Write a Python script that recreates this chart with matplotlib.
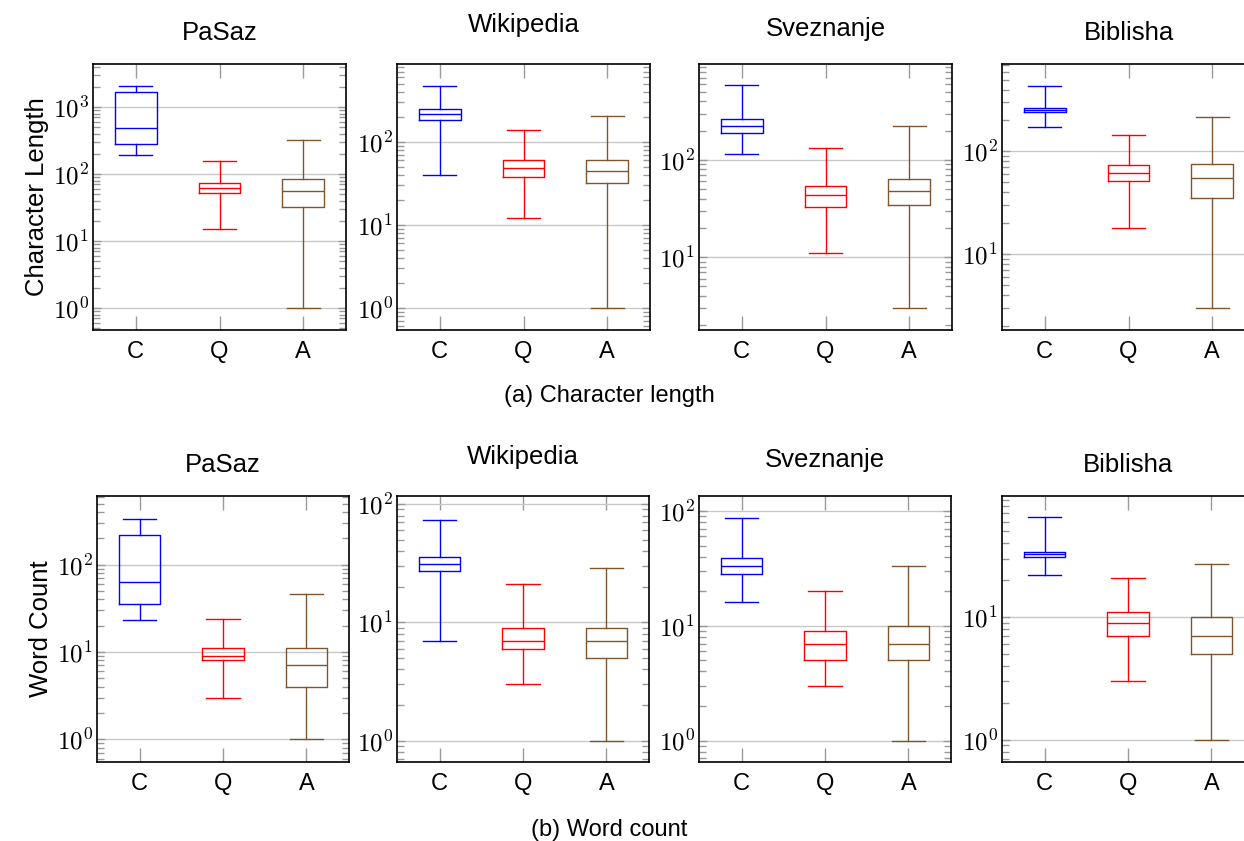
import matplotlib
matplotlib.use('Agg')
from matplotlib import pyplot as plt
from matplotlib.ticker import LogLocator, NullFormatter, FuncFormatter
import numpy as np

plt.rcParams['font.family'] = ['Liberation Sans', 'DejaVu Sans']
plt.rcParams['mathtext.fontset'] = 'cm'

datasets = ['PaSaz', 'Wikipedia', 'Sveznanje', 'Biblisha']
categories = ['C', 'Q', 'A']
colors = ['#0000ff', '#ff0000', '#7b5631']

# box stats per category (C, Q, A): [whislo, q1, med, q3, whishi]
char_pasaz = [[190, 282, 480, 1670, 2050], [15, 52, 62, 74, 158], [1, 32, 56, 83, 323]]
char_wiki = [[40, 182, 215, 247, 476], [12, 38, 48, 60, 141], [1, 32, 45, 60, 208]]
char_svez = [[115, 188, 226, 266, 583], [11, 33, 44, 54, 132], [3, 34, 48, 64, 222]]
char_bib = [[174, 242, 255, 267, 437], [18, 51, 62, 74, 146], [3, 35, 55, 75, 214]]

word_pasaz = [[23, 35, 63, 220, 335], [3, 8, 9, 11, 24], [1, 4, 7, 11, 46]]
word_wiki = [[7, 27, 31, 36, 74], [3, 6, 7, 9, 21], [1, 5, 7, 9, 29]]
word_svez = [[16, 28, 33, 39, 87], [3, 5, 7, 9, 20], [1, 5, 7, 10, 33]]
word_bib = [[22, 31, 32.6, 34, 65], [3, 7, 9, 11, 21], [1, 5, 7, 10, 27]]

char_stats = [char_pasaz, char_wiki, char_svez, char_bib]
word_stats = [word_pasaz, word_wiki, word_svez, word_bib]

char_ylims = [(0.47, 4400), (0.54, 870), (1.78, 970), (1.82, 710)]
word_ylims = [(0.55, 610), (0.66, 117), (0.65, 135), (0.66, 97)]

W, H = 1244, 841
fig = plt.figure(figsize=(W / 100, H / 100), dpi=100)


def px_axes(left, top, right, bottom):
    return fig.add_axes([left / W, 1 - bottom / H, (right - left) / W, (bottom - top) / H])


def pow_label(v, pos):
    return r'$10^{%d}$' % int(round(np.log10(v)))


def draw_panel(ax, stats, ylim, title, pad):
    for i, (s, c) in enumerate(zip(stats, colors)):
        d = dict(whislo=s[0], q1=s[1], med=s[2], q3=s[3], whishi=s[4])
        ax.bxp([d], positions=[i + 1], widths=0.5, capwidths=0.4, showfliers=False,
               manage_ticks=False,
               boxprops=dict(color=c, lw=1.0),
               medianprops=dict(color=c, lw=1.0),
               whiskerprops=dict(color=c, lw=1.0),
               capprops=dict(color=c, lw=1.0))
    ax.set_yscale('log')
    ax.set_ylim(*ylim)
    ax.set_xlim(0.49, 3.51)
    ax.set_xticks([1, 2, 3])
    ax.set_xticklabels(categories, fontsize=17)
    ax.yaxis.set_major_locator(LogLocator(base=10, numticks=10))
    ax.yaxis.set_major_formatter(FuncFormatter(pow_label))
    ax.yaxis.set_minor_locator(LogLocator(base=10, subs=range(2, 10), numticks=20))
    ax.yaxis.set_minor_formatter(NullFormatter())
    ax.tick_params(axis='y', which='both', direction='in', left=True, right=True,
                   color='#999999', labelsize=18, pad=3)
    ax.tick_params(axis='y', which='major', length=6, width=1)
    ax.tick_params(axis='y', which='minor', length=5, width=1)
    ax.tick_params(axis='x', which='both', direction='in', top=True, bottom=True,
                   color='#999999', length=10, width=1, pad=8)
    ax.grid(axis='y', which='major', color='#c8c8c8', lw=1)
    ax.set_axisbelow(True)
    for sp in ax.spines.values():
        sp.set_linewidth(1.2)
    ax.set_title(title, fontsize=18.5, pad=pad)


top_lefts = [93, 397, 699, 1002]
bot_lefts = [97, 397, 699, 1002]
top_pads = [17, 23, 20, 17]
bot_pads = [17, 23, 21, 17]

for j in range(4):
    ax = px_axes(top_lefts[j], 64, top_lefts[j] + 253, 330)
    draw_panel(ax, char_stats[j], char_ylims[j], datasets[j], top_pads[j])
    if j == 0:
        ax.set_ylabel('Character Length', fontsize=18.5, labelpad=3)

for j in range(4):
    ax = px_axes(bot_lefts[j], 496, bot_lefts[j] + 252, 762)
    draw_panel(ax, word_stats[j], word_ylims[j], datasets[j], bot_pads[j])
    if j == 0:
        ax.set_ylabel('Word Count', fontsize=18.5, labelpad=3)

fig.text(609 / W, 1 - 396 / H, '(a) Character length', ha='center', va='center', fontsize=17)
fig.text(609 / W, 1 - 830 / H, '(b) Word count', ha='center', va='center', fontsize=17)

fig.savefig('out.png', dpi=100)
